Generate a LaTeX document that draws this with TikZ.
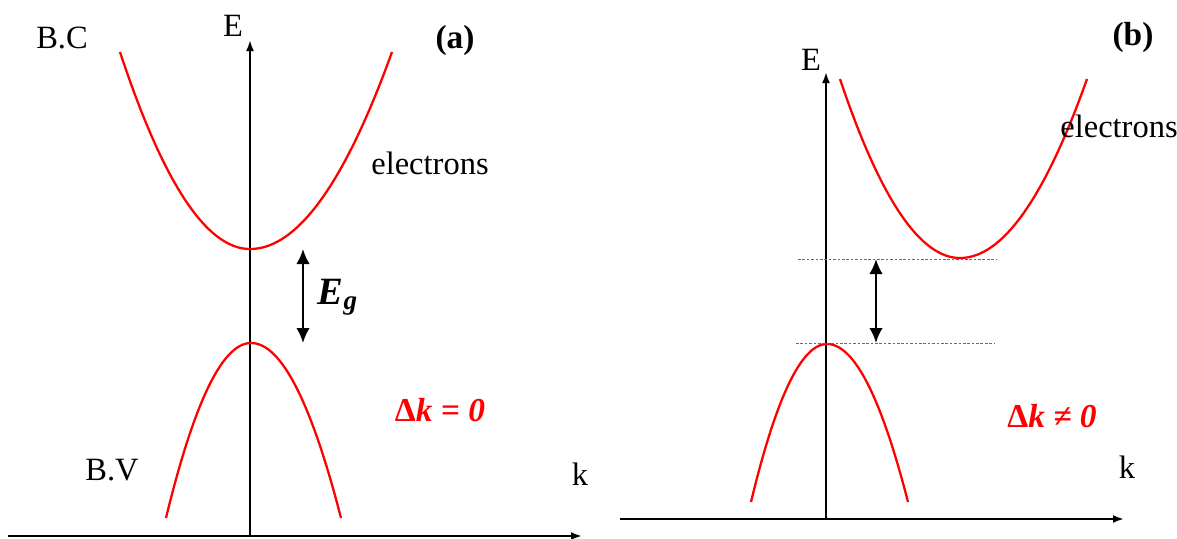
\documentclass[tikz,border=0pt]{standalone}
\usepackage{fontspec}
\setmainfont{Liberation Serif}
\usetikzlibrary{arrows.meta,positioning}
\definecolor{bandred}{RGB}{255,0,0}
\definecolor{dashgray}{RGB}{105,105,105}
\tikzset{
  axis/.style={-{Latex[length=2.2mm,width=1.6mm]}, line width=1.3pt, black},
  band/.style={line width=1.3pt, bandred, smooth, samples=60},
  gaparr/.style={{Latex[length=3mm,width=2.7mm]}-{Latex[length=3mm,width=2.7mm]}, line width=1.3pt},
  level/.style={dash pattern=on 1.5pt off 1pt, line width=0.5pt, dashgray},
  lbl/.style={font=\fontsize{18.5}{20}\selectfont, inner sep=0pt},
  tag/.style={font=\fontsize{19}{21}\selectfont\bfseries, inner sep=0pt},
  dk/.style={font=\fontsize{19}{21}\selectfont\bfseries\itshape, text=bandred, inner sep=0pt},
}

\begin{document}
\begin{tikzpicture}[x=0.02cm, y=-0.02cm]
    \useasboundingbox (0,0) rectangle (1177,538);
    % (a) direct gap
    \coordinate (ka0) at (8,536);   \coordinate (ka1) at (582,536);
    \coordinate (ea0) at (250,536); \coordinate (ea1) at (250,40);
    \draw[axis](ka0)--(ka1);\draw[axis](ea0)--(ea1);
    \draw[band] plot[domain=120:250] (\x,{249-1.166*((\x-250)/10)^2});
    \draw[band] plot[domain=250:392] (\x,{249-0.977*((\x-250)/10)^2});
    \draw[band] plot[domain=166:251] (\x,{343+2.422*((\x-251)/10)^2});
    \draw[band] plot[domain=251:341] (\x,{343+2.160*((\x-251)/10)^2});
    \coordinate (cba) at (303,249); \coordinate (vba) at (303,343);
    \draw[gaparr](cba)--(vba);
    \node[lbl](Ea) at (233,26){E};
    \node[tag](taga) at (455,40){(a)};
    \node[lbl](bc) at (62,38){B.C};
    \node[lbl](elA) at (430,163){electrons};
    \node[font=\fontsize{22}{24}\selectfont\bfseries\itshape, inner sep=0pt](eg) at (338,297){E\textsubscript{g}};
    \node[dk](dka) at (440,410){{\upshape Δ}k = 0};
    \node[lbl](bv) at (112,470){B.V};
    \node[lbl](kA) at (580,474){k};
    % (b) indirect gap
    \coordinate (kb0) at (620,519);  \coordinate (kb1) at (1124,519);
    \coordinate (eb0) at (826,519);  \coordinate (eb1) at (826,72);
    \draw[axis](kb0)--(kb1);\draw[axis](eb0)--(eb1);
    \draw[band] plot[domain=840:960] (\x,{258-1.243*((\x-960)/10)^2});
    \draw[band] plot[domain=960:1087] (\x,{258-1.110*((\x-960)/10)^2});
    \draw[band] plot[domain=751:827] (\x,{344+2.735*((\x-827)/10)^2});
    \draw[band] plot[domain=827:908] (\x,{344+2.408*((\x-827)/10)^2});
    \coordinate (lvc0) at (798,259); \coordinate (lvc1) at (997,259);
    \coordinate (lvv0) at (796,343); \coordinate (lvv1) at (995,343);
    \draw[level](lvc0)--(lvc1);\draw[level](lvv0)--(lvv1);
    \coordinate (cbb) at (876,259); \coordinate (vbb) at (876,343);
    \draw[gaparr](cbb)--(vbb);
    \node[lbl](Eb) at (811,60){E};
    \node[tag](tagb) at (1133,37){(b)};
    \node[lbl](elB) at (1119,126){electrons};
    \node[dk](dkb) at (1052,416){{\upshape Δ}k ≠ 0};
    \node[lbl](kB) at (1127,467){k};
\end{tikzpicture}
\end{document}
